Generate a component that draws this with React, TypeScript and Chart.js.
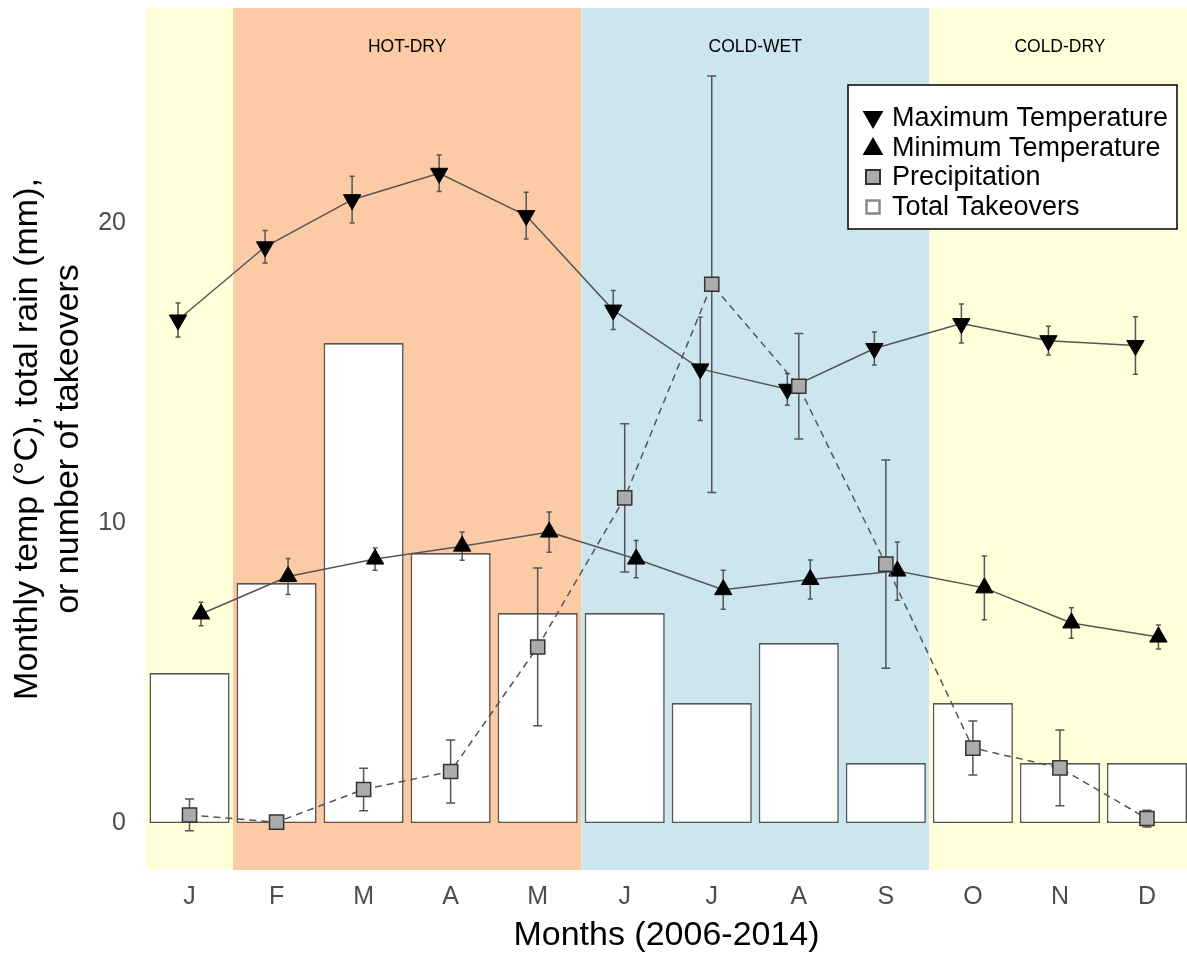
import React, { useEffect, useRef } from 'react';
import { Chart, registerables } from 'chart.js';

Chart.register(...registerables);

const months = ['J', 'F', 'M', 'A', 'M', 'J', 'J', 'A', 'S', 'O', 'N', 'D'];
const takeovers = [5, 8, 16, 9, 7, 7, 4, 6, 2, 4, 2, 2];
const maxTemp = [16.77, 19.21, 20.78, 21.66, 20.25, 17.1, 15.14, 14.46, 15.82, 16.65, 16.08, 15.92];
const maxTempErr = [0.57, 0.54, 0.78, 0.61, 0.78, 0.65, 1.72, 0.53, 0.55, 0.65, 0.48, 0.96];
const minTemp = [6.97, 8.22, 8.8, 9.23, 9.7, 8.8, 7.78, 8.12, 8.4, 7.84, 6.67, 6.2];
const minTempErr = [0.39, 0.6, 0.37, 0.47, 0.67, 0.62, 0.65, 0.65, 0.97, 1.06, 0.51, 0.4];
const precip = [0.27, 0.03, 1.12, 1.72, 5.87, 10.84, 17.96, 14.56, 8.63, 2.5, 1.84, 0.15];
const precipErr = [0.53, 0.02, 0.71, 1.05, 2.63, 2.47, 6.94, 1.76, 3.47, 0.9, 1.26, 0.28];
const yTickValues = [0, 10, 20];
const seasonLabels = ['', 'HOT-DRY', 'COLD-WET', 'COLD-DRY'];
const seasonStart = [-0.5, 0.5, 4.5, 8.5];
const seasonEnd = [0.5, 4.5, 8.5, 11.5];
const legendLabels = ['Maximum Temperature', 'Minimum Temperature', 'Precipitation', 'Total Takeovers'];

const FONT = '"Liberation Sans", Arial, Helvetica, sans-serif';
const seasonColors = ['#FFFFDA', '#FCCBA5', '#CCE6F0', '#FFFFDA'];
const DODGE = 0.132;
const LINE_GREY = '#555555';

function triPath(ctx: CanvasRenderingContext2D, x: number, y: number, r: number, down: boolean) {
  const s = down ? -1 : 1;
  ctx.beginPath();
  ctx.moveTo(x, y - s * r);
  ctx.lineTo(x + r * Math.sin((2 * Math.PI) / 3), y + s * r / 2);
  ctx.lineTo(x - r * Math.sin((2 * Math.PI) / 3), y + s * r / 2);
  ctx.closePath();
}

const seasonsPlugin = {
  id: 'seasons',
  beforeDatasetsDraw(chart: any) {
    const { ctx, chartArea, scales } = chart;
    const xs = scales.x;
    ctx.save();
    ctx.beginPath();
    ctx.rect(chartArea.left, chartArea.top, chartArea.right - chartArea.left, chartArea.bottom - chartArea.top);
    ctx.clip();
    seasonStart.forEach((s, i) => {
      const x1 = xs.getPixelForValue(s);
      const x2 = xs.getPixelForValue(seasonEnd[i]);
      ctx.fillStyle = seasonColors[i];
      ctx.fillRect(x1, chartArea.top, x2 - x1, chartArea.bottom - chartArea.top);
    });
    ctx.fillStyle = '#000';
    ctx.font = `17.5px ${FONT}`;
    ctx.textAlign = 'center';
    ctx.textBaseline = 'middle';
    seasonLabels.forEach((lab, i) => {
      if (!lab) return;
      const xc = (xs.getPixelForValue(seasonStart[i]) + xs.getPixelForValue(seasonEnd[i])) / 2;
      ctx.fillText(lab, xc, chartArea.top + 39);
    });
    ctx.restore();
  },
};

function drawErr(ctx: CanvasRenderingContext2D, xs: any, ys: any, vals: number[], errs: number[], dx: number, cap: number) {
  vals.forEach((v, i) => {
    const x = xs.getPixelForValue(i + dx);
    const y1 = ys.getPixelForValue(v + errs[i]);
    const y2 = ys.getPixelForValue(v - errs[i]);
    ctx.beginPath();
    ctx.moveTo(x, y1);
    ctx.lineTo(x, y2);
    ctx.moveTo(x - cap, y1);
    ctx.lineTo(x + cap, y1);
    ctx.moveTo(x - cap, y2);
    ctx.lineTo(x + cap, y2);
    ctx.stroke();
  });
}

const errorBarsPlugin = {
  id: 'errorBars',
  afterDatasetDraw(chart: any, args: any) {
    if (args.index !== 0) return;
    const { ctx, scales } = chart;
    ctx.save();
    ctx.strokeStyle = LINE_GREY;
    ctx.lineWidth = 1.5;
    drawErr(ctx, scales.x, scales.y, maxTemp, maxTempErr, -DODGE, 2.5);
    drawErr(ctx, scales.x, scales.y, minTemp, minTempErr, DODGE, 2.5);
    drawErr(ctx, scales.x, scales.y, precip, precipErr, 0, 4.5);
    ctx.restore();
  },
};

const boxLegendPlugin = {
  id: 'boxLegend',
  afterDraw(chart: any) {
    const { ctx } = chart;
    const left = 848;
    const top = 85;
    const w = 329;
    const h = 144;
    ctx.save();
    ctx.fillStyle = '#FFFFFF';
    ctx.fillRect(left, top, w, h);
    ctx.strokeStyle = '#000';
    ctx.lineWidth = 1.5;
    ctx.strokeRect(left, top, w, h);
    const mx = 873;
    const rows = [118, 147, 177, 207];
    ctx.fillStyle = '#000';
    triPath(ctx, mx, rows[0] - 1, 12, true);
    ctx.fill();
    triPath(ctx, mx, rows[1] + 2, 12, false);
    ctx.fill();
    ctx.fillStyle = '#ABABAB';
    ctx.strokeStyle = '#333';
    ctx.lineWidth = 2;
    ctx.fillRect(mx - 7, rows[2] - 7, 14, 14);
    ctx.strokeRect(mx - 7, rows[2] - 7, 14, 14);
    ctx.fillStyle = '#FFFFFF';
    ctx.strokeStyle = '#888';
    ctx.lineWidth = 2.5;
    ctx.fillRect(mx - 6.5, rows[3] - 6.5, 13, 13);
    ctx.strokeRect(mx - 6.5, rows[3] - 6.5, 13, 13);
    ctx.fillStyle = '#000';
    ctx.font = `27px ${FONT}`;
    ctx.textAlign = 'left';
    ctx.textBaseline = 'alphabetic';
    const baselines = [126, 155.5, 185, 214.5];
    legendLabels.forEach((lab, i) => ctx.fillText(lab, 892, baselines[i]));
    ctx.restore();
  },
};

function zeroPadding(s: any) {
  s.paddingTop = 0;
  s.paddingBottom = 0;
  s.paddingLeft = 0;
  s.paddingRight = 0;
}

export default function App() {
  const ref = useRef<HTMLCanvasElement>(null);
  useEffect(() => {
    const canvas = ref.current;
    if (!canvas) return;
    const chart = new Chart(canvas, {
      type: 'bar',
      data: {
        datasets: [
          {
            type: 'bar',
            label: 'Total Takeovers',
            data: takeovers.map((v, i) => ({ x: i, y: v })),
            backgroundColor: '#FFFFFF',
            borderColor: '#555555',
            borderWidth: 1.6,
            borderSkipped: false,
            barPercentage: 0.92,
            categoryPercentage: 1,
            order: 10,
          } as any,
          {
            type: 'line',
            label: 'Maximum Temperature',
            data: maxTemp.map((v, i) => ({ x: i - DODGE, y: v })),
            borderColor: LINE_GREY,
            borderWidth: 1.5,
            pointStyle: 'triangle',
            pointRotation: 180,
            pointRadius: 10,
            pointBackgroundColor: '#000',
            pointBorderColor: '#000',
            pointBorderWidth: 1,
            tension: 0,
            order: 2,
          } as any,
          {
            type: 'line',
            label: 'Minimum Temperature',
            data: minTemp.map((v, i) => ({ x: i + DODGE, y: v })),
            borderColor: LINE_GREY,
            borderWidth: 1.5,
            pointStyle: 'triangle',
            pointRadius: 10,
            pointBackgroundColor: '#000',
            pointBorderColor: '#000',
            pointBorderWidth: 1,
            tension: 0,
            order: 1,
          } as any,
          {
            type: 'line',
            label: 'Precipitation',
            data: precip.map((v, i) => ({ x: i, y: v })),
            borderColor: LINE_GREY,
            borderWidth: 1.5,
            borderDash: [7, 5],
            pointStyle: 'rect',
            pointRadius: 10,
            pointBackgroundColor: '#ABABAB',
            pointBorderColor: '#333333',
            pointBorderWidth: 1.5,
            tension: 0,
            order: 0,
          } as any,
        ],
      },
      options: {
        responsive: false,
        animation: false,
        events: [],
        layout: { autoPadding: false, padding: { top: 8, left: 0, right: 0, bottom: 0 } },
        plugins: {
          legend: { display: false },
          tooltip: { enabled: false },
        },
        scales: {
          x: {
            type: 'linear',
            min: -0.5,
            max: 11.46,
            offset: false,
            grid: { display: false, drawTicks: true, tickLength: 8 },
            border: { display: false },
            afterBuildTicks: (s: any) => {
              s.ticks = months.map((_, i) => ({ value: i }));
            },
            afterFit: (s: any) => {
              s.height = 83;
              zeroPadding(s);
            },
            ticks: {
              autoSkip: false,
              maxRotation: 0,
              padding: 4,
              color: '#4D4D4D',
              font: { family: FONT, size: 25 },
              callback: (v: any) => months[v as number] ?? '',
            },
            title: {
              display: true,
              text: 'Months (2006-2014)',
              color: '#000',
              font: { family: FONT, size: 34 },
              padding: { top: 0, bottom: -3 },
            },
          },
          y: {
            type: 'linear',
            min: -1.565,
            max: 27.17,
            grid: { display: false, drawTicks: true, tickLength: 8 },
            border: { display: false },
            afterBuildTicks: (s: any) => {
              s.ticks = yTickValues.map((v) => ({ value: v }));
            },
            afterFit: (s: any) => {
              s.width = 146;
              zeroPadding(s);
            },
            ticks: {
              padding: 12,
              color: '#4D4D4D',
              font: { family: FONT, size: 25 },
            },
            title: {
              display: true,
              text: ['Monthly temp (°C), total rain (mm),', 'or number of takeovers'],
              color: '#000',
              font: { family: FONT, size: 34 },
              padding: { top: 7.6, bottom: 0 },
            },
          },
        },
      } as any,
      plugins: [seasonsPlugin, errorBarsPlugin, boxLegendPlugin],
    });
    return () => chart.destroy();
  }, []);
  return (
    <div style={{ position: 'absolute', left: 0, top: 0, width: 1187, height: 953, background: '#FFFFFF' }}>
      <canvas ref={ref} width={1187} height={953} style={{ display: 'block' }} />
    </div>
  );
}
